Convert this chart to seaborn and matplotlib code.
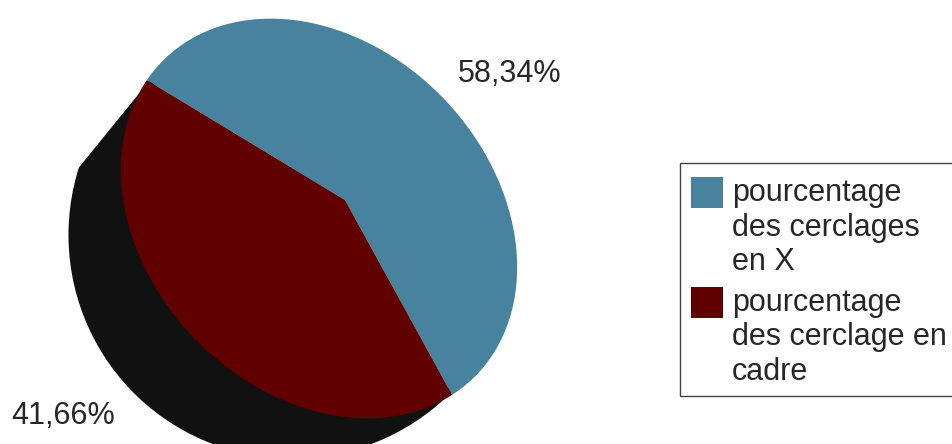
import matplotlib
matplotlib.use("Agg")
import matplotlib.pyplot as plt
from matplotlib.patches import Ellipse, Rectangle, Wedge
import seaborn as sns

labels = ["pourcentage\ndes cerclages\nen X", "pourcentage\ndes cerclage en\ncadre"]
values = [58.34, 41.66]
value_labels = ["58,34%", "41,66%"]

sns.set_theme(style="white")
plt.rcParams['font.family'] = ['Liberation Sans', 'DejaVu Sans']
colors = sns.color_palette(["#47829F", "#600000"])
TEXT = "#262626"
FS = 22

fig = plt.figure(figsize=(9.53, 4.44), dpi=100)
ax = fig.add_axes([0, 0, 1, 1])

# axes in pixels, y going up, apex of the pie is off centre of the outline
apex = (345, 444 - 200)
start = -61.2

# dark side under the red slice, not data, only the fake 3d depth
side = Wedge((150, 444 - 80), 500, -129.1, -45.9, facecolor="#111111", linewidth=0)
ax.add_patch(side)

# top face
top, _ = ax.pie(values, colors=colors, center=apex, radius=340,
                startangle=start, frame=True, wedgeprops={'linewidth': 0})

ax.set_xlim(0, 953)
ax.set_ylim(0, 444)
ax.set_aspect('auto')
ax.axis('off')

# pie() turns clipping off on its wedges, outline comes from these ellipses
side.set_clip_path(Ellipse((293, 444 - 234), 448, 450, angle=-46, transform=ax.transData))
top_clip = Ellipse((319, 444 - 218.5), 444, 346, angle=-46, transform=ax.transData)
for w in top:
    w.set_clip_on(True)
    w.set_clip_path(top_clip)

ax.text(458, 444 - 82, value_labels[0], fontsize=FS, color=TEXT, va='baseline')
ax.text(11, 444 - 424, value_labels[1], fontsize=FS, color=TEXT, va='baseline')

ax.add_patch(Rectangle((680, 444 - 396), 300, 233, facecolor="white",
                       edgecolor="#444444", linewidth=1.0, clip_on=True))
leg = ax.legend(top, labels, loc='lower left', bbox_to_anchor=(680, 444 - 398),
                bbox_transform=ax.transData, borderaxespad=0, fontsize=FS,
                frameon=False, handlelength=1.04, handleheight=1.21, handletextpad=0.3,
                borderpad=0.36, labelspacing=0.35, labelcolor=TEXT)
for t in leg.get_texts():
    t.set_linespacing(1.2)
# handles sit next to the first line of each label
for p in leg.get_patches():
    p.set_y(p.get_y() + 26)

fig.savefig("out.png", dpi=100)
